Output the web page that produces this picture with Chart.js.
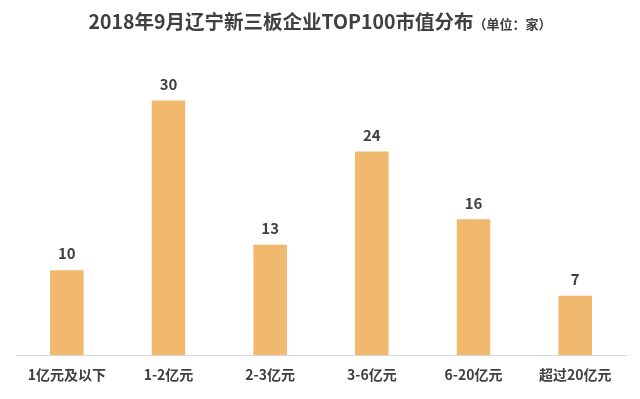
<!DOCTYPE html>
<html lang="zh">
<head>
<meta charset="UTF-8" />
<title>2018年9月辽宁新三板企业TOP100市值分布</title>
<style>
  html, body { margin: 0; padding: 0; background: #fff; }
  .wrap { position: relative; width: 640px; height: 399px; }
  .title { position: absolute; top: 6px; left: 0; width: 640px; text-align: center; font-family: 'Noto Sans CJK SC', sans-serif; color: #404040; white-space: nowrap; }
  .title b { font-size: 19.5px; }
  .title span { font-size: 13px; font-weight: bold; }
  canvas { position: absolute; left: 0; top: 0; }
</style>
</head>
<body>
<div class="wrap">
  <canvas id="c" width="640" height="399"></canvas>
  <div class="title"><b>2018年9月辽宁新三板企业TOP100市值分布</b><span>（单位：家）</span></div>
</div>
<script src="https://cdn.jsdelivr.net/npm/chart.js"></script>
<script>
const categories = ['1亿元及以下', '1-2亿元', '2-3亿元', '3-6亿元', '6-20亿元', '超过20亿元'];
const counts = [10, 30, 13, 24, 16, 7];

// numbers above each bar
const valueLabels = {
  id: 'valueLabels',
  afterDatasetsDraw(chart) {
    const ctx = chart.ctx;
    const meta = chart.getDatasetMeta(0);
    ctx.save();
    ctx.font = "bold 15px 'Noto Sans CJK SC', sans-serif";
    ctx.fillStyle = '#404040';
    ctx.textAlign = 'center';
    ctx.textBaseline = 'bottom';
    meta.data.forEach((bar, i) => {
      ctx.fillText(counts[i], bar.x, bar.y - 9);
    });
    ctx.restore();
  }
};

new Chart(document.getElementById('c'), {
  type: 'bar',
  data: {
    labels: categories,
    datasets: [{
      data: counts,
      backgroundColor: '#F0B96E',
      categoryPercentage: 1,
      barPercentage: 0.33
    }]
  },
  options: {
    responsive: false,
    animation: false,
    layout: { padding: { left: 16, right: 14, top: 58, bottom: 13 } },
    plugins: { legend: { display: false }, tooltip: { enabled: false } },
    scales: {
      y: { display: false, min: 0, max: 35 },
      x: {
        grid: { display: false },
        border: { color: '#d9d9d9', width: 1 },
        ticks: {
          color: '#404040',
          font: { family: "'Noto Sans CJK SC', sans-serif", size: 14, weight: 'bold' },
          padding: 3,
          maxRotation: 0
        }
      }
    }
  },
  plugins: [valueLabels]
});
</script>
</body>
</html>
